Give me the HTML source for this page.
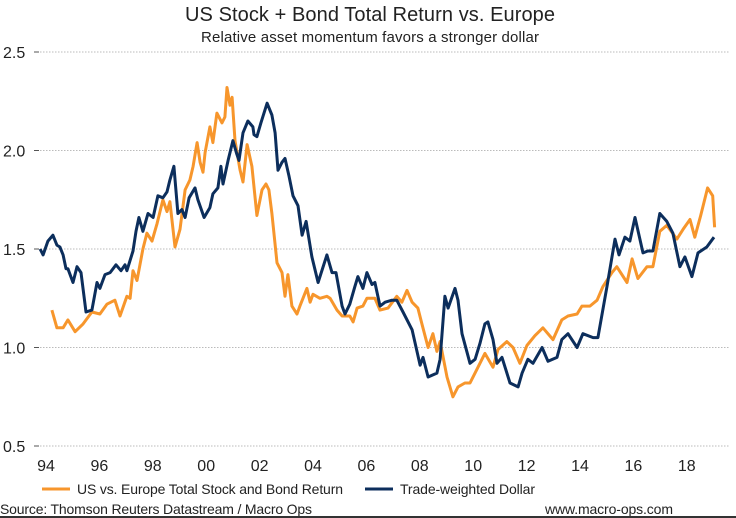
<!DOCTYPE html>
<html><head><meta charset="utf-8"><style>
body{margin:0;background:#fff;}
svg{display:block;font-family:"Liberation Sans",Arial,sans-serif;}
</style></head><body>
<svg id="chart" width="736" height="518" viewBox="0 0 736 518">
<text x="370" y="21" text-anchor="middle" font-size="20" fill="#222" textLength="370">US Stock + Bond Total Return vs. Europe</text>
<text x="370" y="42" text-anchor="middle" font-size="15" fill="#222" textLength="338">Relative asset momentum favors a stronger dollar</text>
<g id="grid"></g>
<g id="yaxis"></g>
<g id="xaxis"></g>
<g id="series"></g>
<g>
<g><line x1="42" y1="489" x2="70" y2="489" stroke="#F7962C" stroke-width="3"/><text x="77" y="494" font-size="14" fill="#222" textLength="266">US vs. Europe Total Stock and Bond Return</text></g>
<g><line x1="365" y1="489" x2="393" y2="489" stroke="#0C2E5C" stroke-width="3"/><text x="400" y="494" font-size="14" fill="#222" textLength="135">Trade-weighted Dollar</text></g>
</g>
<text x="0" y="514" font-size="14" fill="#222" textLength="312">Source: Thomson Reuters Datastream / Macro Ops</text>
<text x="545" y="514" font-size="14" fill="#222" textLength="128">www.macro-ops.com</text>
<line x1="0" y1="517" x2="736" y2="517" stroke="#333" stroke-width="2"/>
</svg>
<script>
const yTicks=[0.5,1.0,1.5,2.0,2.5];
const xTickYears=[1994,1996,1998,2000,2002,2004,2006,2008,2010,2012,2014,2016,2018];
const xTickLabels=["94","96","98","00","02","04","06","08","10","12","14","16","18"];
const stockYears=[1994.22,1994.41,1994.64,1994.82,1995.09,1995.39,1995.72,1996.02,1996.28,1996.58,1996.77,1997.03,1997.15,1997.26,1997.41,1997.63,1997.78,1997.97,1998.16,1998.38,1998.53,1998.64,1998.83,1999.02,1999.21,1999.39,1999.51,1999.66,1999.77,1999.88,1999.96,2000.14,2000.25,2000.40,2000.59,2000.70,2000.78,2000.89,2000.97,2001.08,2001.27,2001.38,2001.53,2001.71,2001.90,2002.09,2002.24,2002.35,2002.46,2002.65,2002.84,2002.95,2003.06,2003.21,2003.40,2003.51,2003.77,2003.89,2004.00,2004.26,2004.52,2004.64,2004.90,2005.09,2005.38,2005.50,2005.65,2005.87,2006.02,2006.32,2006.51,2006.81,2007.14,2007.33,2007.52,2007.71,2007.93,2008.08,2008.31,2008.49,2008.64,2008.76,2009.02,2009.24,2009.43,2009.69,2009.88,2010.18,2010.44,2010.74,2010.93,2011.26,2011.49,2011.75,2012.01,2012.31,2012.61,2012.99,2013.32,2013.55,2013.89,2014.07,2014.37,2014.64,2014.86,2015.20,2015.38,2015.76,2015.95,2016.17,2016.51,2016.73,2016.99,2017.25,2017.63,2017.86,2018.12,2018.30,2018.52,2018.78,2018.97,2019.04];
const stockValues=[1.19,1.10,1.10,1.14,1.08,1.12,1.18,1.17,1.22,1.24,1.16,1.26,1.25,1.39,1.34,1.50,1.58,1.54,1.63,1.75,1.69,1.74,1.51,1.60,1.80,1.85,1.92,2.04,1.94,1.89,1.99,2.12,2.04,2.19,2.14,2.17,2.32,2.23,2.27,2.05,1.90,1.84,2.03,1.92,1.67,1.80,1.83,1.80,1.68,1.43,1.38,1.26,1.37,1.21,1.17,1.21,1.30,1.23,1.27,1.25,1.26,1.25,1.19,1.16,1.16,1.13,1.20,1.21,1.25,1.25,1.19,1.20,1.26,1.23,1.29,1.23,1.20,1.12,1.00,1.07,0.98,1.03,0.85,0.75,0.80,0.82,0.82,0.90,0.97,0.90,0.99,1.03,1.00,0.92,1.01,1.06,1.10,1.04,1.14,1.16,1.17,1.21,1.21,1.24,1.31,1.38,1.41,1.33,1.45,1.35,1.41,1.41,1.59,1.62,1.55,1.60,1.65,1.56,1.67,1.81,1.77,1.61];
const dollarYears=[1993.78,1993.89,1994.07,1994.26,1994.41,1994.52,1994.64,1994.75,1994.82,1995.01,1995.16,1995.31,1995.50,1995.72,1995.91,1996.02,1996.21,1996.40,1996.62,1996.81,1996.96,1997.03,1997.26,1997.37,1997.48,1997.63,1997.82,1998.01,1998.19,1998.38,1998.53,1998.64,1998.79,1998.94,1999.09,1999.21,1999.36,1999.58,1999.69,1999.92,2000.14,2000.25,2000.44,2000.55,2000.63,2000.82,2001.00,2001.15,2001.23,2001.38,2001.56,2001.75,2001.79,2001.90,2002.05,2002.28,2002.46,2002.58,2002.69,2002.84,2002.95,2003.10,2003.25,2003.44,2003.59,2003.74,2003.96,2004.19,2004.52,2004.71,2004.86,2005.09,2005.20,2005.38,2005.57,2005.68,2005.87,2006.02,2006.21,2006.32,2006.51,2006.70,2006.96,2007.14,2007.37,2007.71,2008.01,2008.12,2008.31,2008.64,2008.76,2008.94,2009.06,2009.32,2009.43,2009.58,2009.88,2010.07,2010.25,2010.44,2010.55,2010.74,2010.89,2011.08,2011.38,2011.68,2011.83,2012.05,2012.24,2012.58,2012.80,2013.14,2013.32,2013.55,2013.89,2014.11,2014.49,2014.67,2015.01,2015.31,2015.46,2015.68,2015.87,2016.06,2016.36,2016.54,2016.73,2016.99,2017.25,2017.48,2017.74,2017.93,2018.19,2018.42,2018.75,2019.02];
const dollarValues=[1.50,1.47,1.54,1.57,1.52,1.51,1.47,1.40,1.40,1.33,1.41,1.38,1.18,1.19,1.33,1.30,1.37,1.38,1.42,1.39,1.42,1.39,1.49,1.59,1.66,1.59,1.68,1.66,1.77,1.76,1.79,1.85,1.92,1.68,1.70,1.66,1.76,1.81,1.75,1.66,1.71,1.78,1.81,1.92,1.83,1.95,2.05,1.98,1.95,2.09,2.15,2.12,2.08,2.07,2.14,2.24,2.18,2.09,1.90,1.94,1.96,1.87,1.77,1.72,1.57,1.64,1.46,1.33,1.47,1.38,1.38,1.21,1.17,1.22,1.31,1.36,1.30,1.38,1.32,1.33,1.21,1.23,1.24,1.24,1.18,1.09,0.91,0.95,0.85,0.87,0.94,1.26,1.20,1.30,1.24,1.07,0.92,0.94,1.02,1.12,1.13,1.04,0.92,0.95,0.82,0.80,0.87,0.94,0.92,1.00,0.93,0.95,1.04,1.07,1.00,1.07,1.05,1.05,1.31,1.55,1.47,1.56,1.54,1.66,1.48,1.49,1.49,1.68,1.64,1.58,1.41,1.46,1.36,1.48,1.51,1.56];

const NS='http://www.w3.org/2000/svg';
function xs(y){return 46+(y-1994)*26.7;}
function ys(v){return 52+(2.5-v)*197;}
const grid=document.getElementById('grid'),ya=document.getElementById('yaxis'),xa=document.getElementById('xaxis'),ser=document.getElementById('series');
yTicks.forEach(t=>{
  const g=document.createElementNS(NS,'line');
  g.setAttribute('x1',40);g.setAttribute('x2',730);g.setAttribute('y1',ys(t));g.setAttribute('y2',ys(t));
  g.setAttribute('stroke','#bbb');g.setAttribute('stroke-dasharray','1.5,1.5');
  
  
  grid.appendChild(g);
  const tk=document.createElementNS(NS,'line');
  tk.setAttribute('x1',34);tk.setAttribute('x2',39);tk.setAttribute('y1',ys(t));tk.setAttribute('y2',ys(t));
  tk.setAttribute('stroke','#555');
  
  
  ya.appendChild(tk);
  const tx=document.createElementNS(NS,'text');
  tx.setAttribute('x',3);tx.setAttribute('y',ys(t)+6);tx.setAttribute('font-size','16');tx.setAttribute('fill','#222');
  tx.textContent=t.toFixed(1);
  
  
  ya.appendChild(tx);
});
xTickYears.forEach((y,i)=>{
  const tx=document.createElementNS(NS,'text');
  tx.setAttribute('x',xs(y));tx.setAttribute('y',471);tx.setAttribute('font-size','16');tx.setAttribute('fill','#222');tx.setAttribute('text-anchor','middle');
  tx.textContent=xTickLabels[i];
  
  
  xa.appendChild(tx);
});
function line(xv,vv,color,name){
  const p=document.createElementNS(NS,'polyline');
  p.setAttribute('points',xv.map((x,i)=>xs(x).toFixed(1)+','+ys(vv[i]).toFixed(1)).join(' '));
  p.setAttribute('fill','none');p.setAttribute('stroke',color);p.setAttribute('stroke-width','3');p.setAttribute('stroke-linejoin','round');
  
  
  ser.appendChild(p);
}
line(stockYears,stockValues,'#F7962C','stock-bond-return-line');
line(dollarYears,dollarValues,'#0C2E5C','trade-weighted-dollar-line');
</script>
</body></html>
